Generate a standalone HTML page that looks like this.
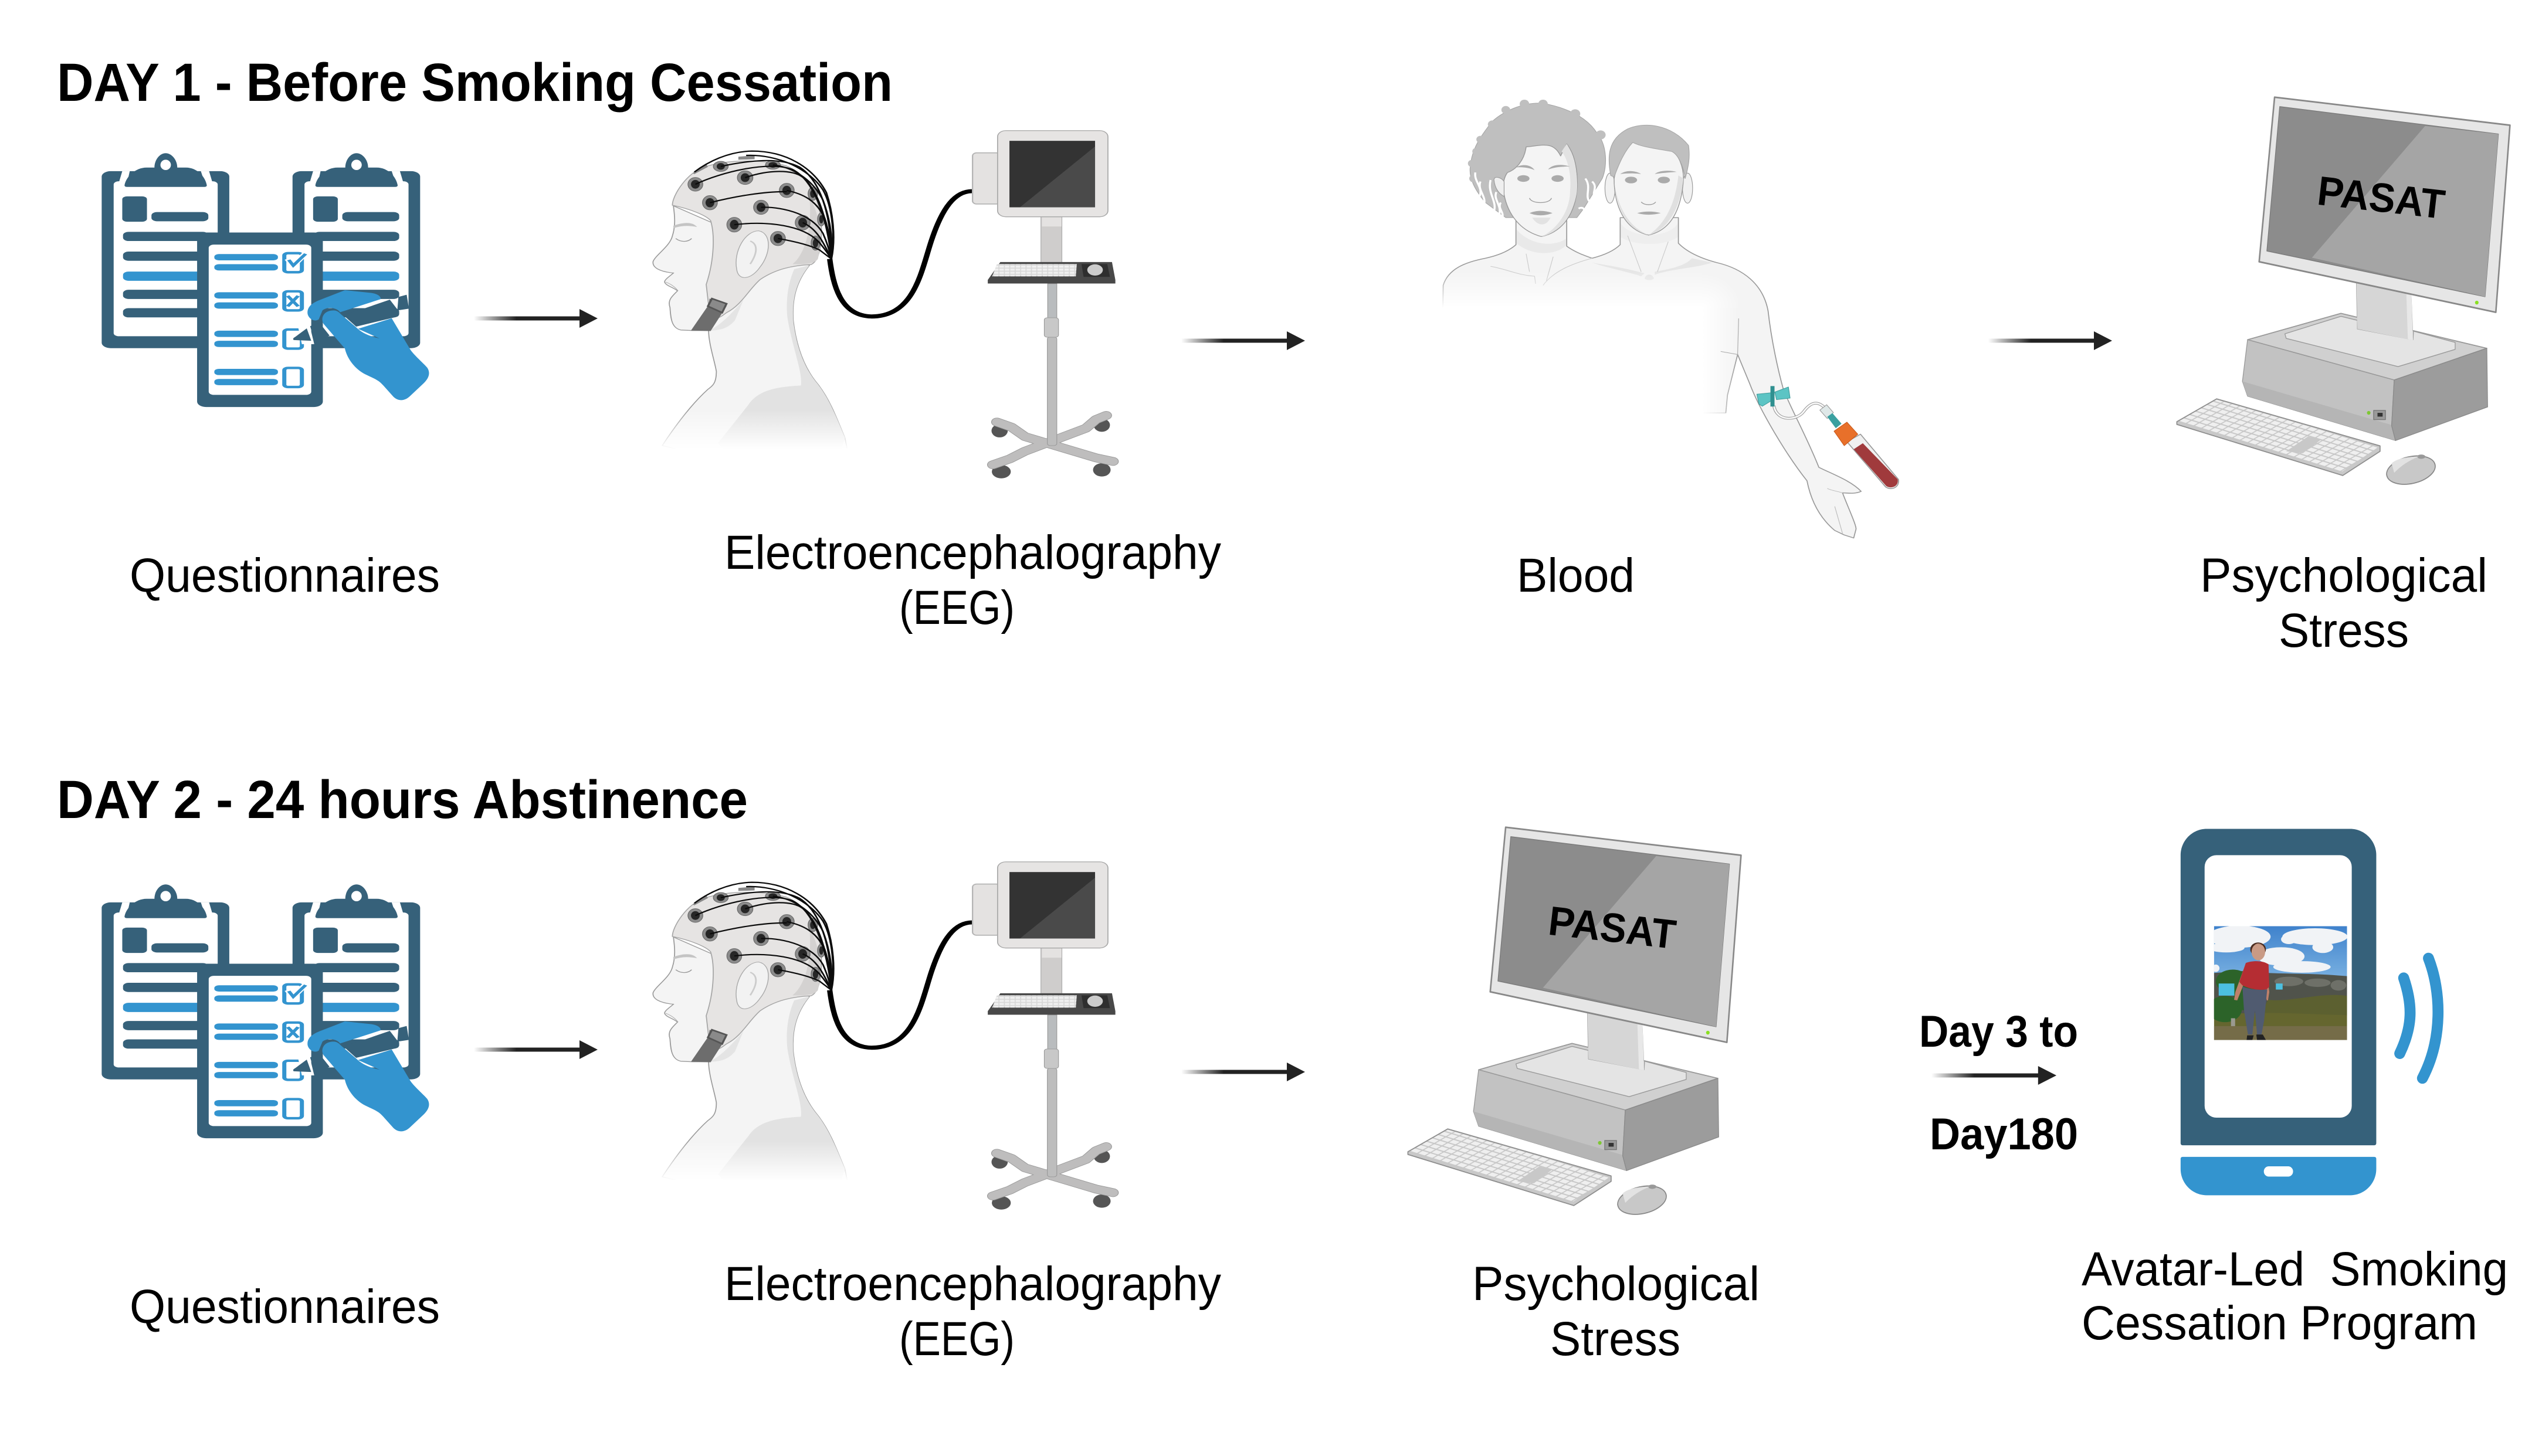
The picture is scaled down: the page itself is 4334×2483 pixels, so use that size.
<!DOCTYPE html>
<html lang="en"><head><meta charset="utf-8"><title>Study protocol diagram</title>
<style>html,body{margin:0;padding:0;background:#fff}svg{display:block}
text{font-family:"Liberation Sans",sans-serif;fill:#000;white-space:pre}
.t{font-weight:700;font-size:92px}.l{font-size:82px}.d{font-weight:700;font-size:76px}</style></head><body>
<svg xmlns="http://www.w3.org/2000/svg" width="4334" height="2483" viewBox="0 0 4334 2483">
<defs>
<linearGradient id="ag" x1="0" x2="1" y1="0" y2="0"><stop offset="0" stop-color="#222" stop-opacity="0"/><stop offset=".4" stop-color="#222"/><stop offset="1" stop-color="#222"/></linearGradient>
<linearGradient id="fv" gradientUnits="userSpaceOnUse" x1="0" x2="0" y1="1190" y2="1345"><stop offset="0" stop-color="#fff"/><stop offset="1" stop-color="#000"/></linearGradient>
<linearGradient id="fb" gradientUnits="userSpaceOnUse" x1="0" x2="0" y1="650" y2="770"><stop offset="0" stop-color="#fff"/><stop offset="1" stop-color="#000"/></linearGradient>
<linearGradient id="fh" gradientUnits="userSpaceOnUse" x1="870" x2="975" y1="0" y2="0"><stop offset="0" stop-color="#000"/><stop offset="1" stop-color="#fff"/></linearGradient>
<radialGradient id="fr" gradientUnits="userSpaceOnUse" cx="870" cy="770" r="115"><stop offset="0" stop-color="#000"/><stop offset="1" stop-color="#fff"/></radialGradient>
<linearGradient id="sky" x1="0" x2="0" y1="0" y2="1"><stop offset="0" stop-color="#3f82cc"/><stop offset="1" stop-color="#76aee0"/></linearGradient>
<mask id="mh" maskUnits="userSpaceOnUse" x="0" y="0" width="700" height="1400"><rect width="700" height="1400" fill="url(#fv)"/></mask>
<mask id="mb" maskUnits="userSpaceOnUse" x="0" y="0" width="1500" height="1600"><rect width="870" height="770" fill="url(#fb)"/><rect x="870" y="0" width="105" height="650" fill="#fff"/><rect x="870" y="650" width="105" height="120" fill="url(#fr)"/><rect x="870" y="770" width="105" height="350" fill="url(#fh)"/><rect x="975" y="0" width="525" height="1600" fill="#fff"/></mask>
<pattern id="k1" patternUnits="userSpaceOnUse" width="30" height="25" patternTransform="matrix(1,.297,.9,-.5,145,1283)"><rect x="2.5" y="3" width="25" height="19" rx="2" fill="#efefef"/></pattern>
<pattern id="k2" patternUnits="userSpaceOnUse" width="16" height="12"><rect x="1.5" y="2" width="13" height="8" rx="1" fill="#f0f0f0"/></pattern>

<g id="ar"><rect x="0" y="-3.5" width="181" height="7" fill="url(#ag)"/><path d="M180-16 L211 0 L180 16Z" fill="#222"/></g>

<g id="board"><rect x="115" y="240" width="341" height="788" rx="24" fill="#36617a"/>
<rect x="147" y="285" width="278" height="690" rx="14" fill="#fff"/>
<path d="M170 240L190 240L182 300L160 296Z M380 240H402L412 296L392 300Z" fill="#fff"/>
<path d="M176 303C180 265 205 224 235 224H256C256 190 270 160 286 160C302 160 317 190 317 224H340C370 224 392 265 396 303Q396 310 390 310H182Q176 310 176 303Z" fill="#36617a"/>
<ellipse cx="286" cy="212" rx="14" ry="23" fill="#fff"/>
<rect x="170" y="352" width="66" height="113" rx="13" fill="#36617a"/><rect x="248" y="422" width="152" height="41" rx="15" fill="#36617a"/>
<g fill="#36617a"><rect x="172" y="510" width="228" height="41" rx="15"/><rect x="172" y="598" width="228" height="41" rx="15"/><rect x="172" y="768" width="228" height="41" rx="15"/><rect x="172" y="850" width="228" height="41" rx="15"/></g>
<rect x="172" y="687" width="228" height="41" rx="15" fill="#3394cf"/></g>

<g id="q"><g transform="translate(100,200) scale(.638,.383)">
<use href="#board"/><use href="#board" x="510"/>
<rect x="370" y="513" width="336" height="777" rx="24" fill="#36617a"/>
<rect x="401" y="567" width="274" height="669" rx="14" fill="#fff"/>
<g fill="#3394cf"><rect x="416" y="609" width="170" height="28" rx="12"/><rect x="416" y="654" width="170" height="28" rx="12"/><rect x="416" y="779" width="170" height="28" rx="12"/><rect x="416" y="824" width="170" height="28" rx="12"/><rect x="416" y="950" width="170" height="28" rx="12"/><rect x="416" y="995" width="170" height="28" rx="12"/><rect x="416" y="1120" width="170" height="28" rx="12"/><rect x="416" y="1165" width="170" height="28" rx="12"/></g>
<g fill="#fff" stroke="#3394cf" stroke-width="11"><rect x="603" y="605" width="47" height="85" rx="10"/><rect x="603" y="775" width="47" height="85" rx="10"/><rect x="603" y="945" width="47" height="85" rx="10"/><rect x="603" y="1116" width="47" height="85" rx="10"/></g>
<path d="M612 630L627 660L660 606" fill="none" stroke="#fff" stroke-width="18"/><path d="M615 635L627 660L660 608" fill="none" stroke="#3394cf" stroke-width="10"/>
<path d="M612 795L640 842M640 795L612 842" stroke="#3394cf" stroke-width="10"/>
<path d="M815 852L885 812L905 855L908 885L895 892L795 932L760 880Z" fill="#36617a"/>
<path d="M908 800L930 790L936 852L905 860Z" fill="#36617a"/>
<path d="M672 930L697 915L724 972L685 1000Z" fill="#36617a"/>
<path d="M640 935H672L683 1010H650Z" fill="#fff"/>
<path d="M663 940L675 995L628 992C625 985 628 982 632 978Z" fill="#36617a"/>
<path d="M890 895L940 1035C950 1060 975 1095 985 1115C995 1140 988 1165 975 1185L940 1240C925 1265 908 1265 895 1245L868 1195C855 1170 845 1165 820 1145C790 1120 770 1070 765 1030L708 920C700 900 705 860 735 860C745 860 750 870 755 878L795 935C810 960 830 975 858 985L800 942Z" fill="#3394cf"/>
<path d="M665 870C665 840 680 825 700 812L765 770L835 782C855 787 862 800 860 810L752 868C745 850 720 840 705 860L695 900C680 915 665 890 665 870Z" fill="#3394cf"/>
</g></g>

<g id="eeg"><g transform="translate(1080,180) scale(.577,.436)">
<g mask="url(#mh)"><path d="M118 392C122 430 125 470 115 510C108 550 65 585 58 610C55 635 80 650 118 655C110 665 92 680 92 690C95 705 120 712 130 725C115 745 100 760 108 790C110 830 112 870 140 878L175 880L222 880C222 930 240 1000 245 1040C245 1085 235 1095 220 1110C170 1170 120 1260 85 1330L300 1400H640L625 1300C600 1220 580 1150 545 1090C500 1020 480 930 472 840C468 760 480 690 520 625Z" fill="#f4f4f4" stroke="#9a9a9a" stroke-width="3"/>
<path d="M340 1170C370 1110 430 1100 495 1095C500 1040 470 950 455 830C450 770 455 700 475 640L520 625C480 690 468 760 472 840C480 930 500 1020 545 1090C580 1150 600 1220 625 1300L600 1400H300L250 1320Z" fill="#e2e2e2"/>
<path d="M222 880C250 865 280 830 325 760L300 840C280 870 260 880 222 880Z" fill="#e4e4e4"/></g>
<path d="M118 470C150 455 175 455 188 475C160 468 140 470 118 480Z" fill="#c4c4c4"/><path d="M125 520C140 535 160 535 172 520" fill="none" stroke="#999" stroke-width="3"/><path d="M95 690C105 695 120 705 132 725" fill="none" stroke="#aaa" stroke-width="2"/>
<path d="M115 390C115 350 160 260 210 240C280 210 380 210 450 235C520 270 560 380 555 500C555 560 545 610 525 622C470 625 420 640 375 680C340 720 320 780 275 810C250 835 235 850 222 780L215 700C240 600 240 500 228 450C215 430 170 405 115 390Z" fill="#e6e4e3" stroke="#a5a5a5" stroke-width="3"/>
<path d="M470 620C500 590 530 500 520 360C550 420 560 520 545 600C535 620 500 622 470 620Z" fill="#d4d2d1"/>
<path d="M305 640C295 570 330 490 370 490C410 500 405 580 375 630C350 680 310 690 305 640Z" fill="#f2f2f2" stroke="#aaa" stroke-width="2.5"/><path d="M345 530C365 540 370 570 345 620" fill="none" stroke="#ccc" stroke-width="5"/>
<path d="M222 780L170 880L228 882L275 785L225 755Z" fill="#6d6d6d"/><path d="M220 785L232 755L275 775L262 810Z" fill="#8a8a8a" stroke="#555" stroke-width="6"/>
<g fill="#8b8b8b" stroke="#666" stroke-width="2"><ellipse cx="183" cy="308" rx="22" ry="27"/><ellipse cx="258" cy="238" rx="22" ry="20"/><ellipse cx="330" cy="282" rx="23" ry="27"/><ellipse cx="412" cy="232" rx="22" ry="17"/><ellipse cx="453" cy="332" rx="22" ry="28"/><ellipse cx="226" cy="380" rx="22" ry="28"/><ellipse cx="377" cy="398" rx="22" ry="28"/><ellipse cx="298" cy="466" rx="22" ry="29"/><ellipse cx="500" cy="458" rx="22" ry="29"/><ellipse cx="427" cy="520" rx="22" ry="28"/><ellipse cx="530" cy="345" rx="14" ry="26"/><ellipse cx="555" cy="445" rx="11" ry="26"/><ellipse cx="538" cy="538" rx="13" ry="28"/></g>
<g fill="#262626"><ellipse cx="183" cy="308" rx="13" ry="17"/><ellipse cx="258" cy="238" rx="12" ry="13"/><ellipse cx="330" cy="282" rx="13" ry="17"/><ellipse cx="412" cy="232" rx="13" ry="11"/><ellipse cx="453" cy="332" rx="13" ry="18"/><ellipse cx="226" cy="380" rx="13" ry="18"/><ellipse cx="377" cy="398" rx="13" ry="18"/><ellipse cx="298" cy="466" rx="13" ry="19"/><ellipse cx="500" cy="458" rx="13" ry="19"/><ellipse cx="427" cy="520" rx="13" ry="18"/><ellipse cx="530" cy="345" rx="8" ry="16"/><ellipse cx="555" cy="445" rx="6" ry="16"/><ellipse cx="538" cy="538" rx="8" ry="17"/></g>
<path d="M175 265L215 228L220 240L180 268ZM310 200L358 195V210L310 212Z" fill="#888"/>
<g fill="none" stroke="#0c0c0c" stroke-width="5"><path d="M183 308C260 260 400 215 470 250C530 290 570 420 585 600"/><path d="M258 238C340 215 430 200 490 240C550 290 585 420 585 600"/><path d="M330 282C400 250 470 250 500 280C545 330 575 450 585 600"/><path d="M412 232C470 240 530 290 560 370C580 440 590 520 585 600"/><path d="M453 332C500 345 540 370 565 440C575 480 585 540 585 600"/><path d="M226 380C300 355 390 335 453 337"/><path d="M377 398C450 395 530 430 560 500C570 530 580 570 585 600"/><path d="M298 466C400 450 500 470 545 530C560 550 575 580 585 600"/><path d="M500 458C540 480 560 530 585 600"/><path d="M427 520C470 530 520 545 550 565L585 600"/><path d="M180 260C220 220 280 180 350 178C450 178 530 240 570 340C590 420 598 520 585 600"/><path d="M333 195C430 190 520 250 560 330C590 400 595 520 585 600"/></g>
<path d="M580 600C590 700 610 822 703 825C830 825 850 650 880 530C905 430 940 335 1000 335" fill="none" stroke="#000" stroke-width="16"/>
<rect x="1002" y="185" width="82" height="200" rx="12" fill="#e4e2e1" stroke="#b5b5b5" stroke-width="4"/>
<g transform="translate(-8,0)">
<rect x="1212" y="435" width="62" height="180" fill="#cfcdcc" stroke="#aaa" stroke-width="2"/><rect x="1215" y="437" width="58" height="36" fill="#e4e2e1"/>
<rect x="1084" y="98" width="326" height="337" rx="24" fill="#e6e4e3" stroke="#a8a8a8" stroke-width="3"/>
<rect x="1119" y="138" width="253" height="260" fill="#333"/><path d="M1372 160V398H1150Z" fill="#4a4a4a"/>
<path d="M1092 612H1422L1432 682V696H1055V682Z" fill="#484848"/><path d="M1082 620H1318L1315 668H1068Z" fill="#d8d8d8"/><path d="M1082 620H1318L1315 668H1068Z" fill="url(#k2)"/>
<path d="M1332 620H1408L1416 670H1338Z" fill="#2e2e2e"/><ellipse cx="1372" cy="643" rx="23" ry="22" fill="#ccc"/>
<rect x="1232" y="697" width="27" height="140" fill="#b9bcbe" stroke="#999" stroke-width="2"/>
<g fill="#555"><ellipse cx="1090" cy="1272" rx="24" ry="26"/><ellipse cx="1392" cy="1250" rx="24" ry="26"/><ellipse cx="1095" cy="1432" rx="28" ry="26"/><ellipse cx="1392" cy="1425" rx="26" ry="26"/></g>
<g fill="none" stroke-linejoin="round" stroke-linecap="round"><path d="M1082 1238L1125 1258L1165 1295L1375 1378L1425 1392M1070 1405L1120 1382L1165 1352L1345 1262L1375 1228L1405 1212" stroke="#999" stroke-width="34"/><path d="M1082 1238L1125 1258L1165 1295L1375 1378L1425 1392M1070 1405L1120 1382L1165 1352L1345 1262L1375 1228L1405 1212" stroke="#bebdbd" stroke-width="30"/></g>
<rect x="1231" y="905" width="28" height="425" rx="8" fill="#bdbdbd" stroke="#999" stroke-width="2"/><rect x="1222" y="830" width="42" height="76" rx="8" fill="#c8c8c8" stroke="#999" stroke-width="2"/>
</g>
</g></g>

<g id="pc"><g transform="translate(3650,130) scale(.4386,.4585)" stroke-linejoin="round">
<path d="M838 760L1050 800L1058 985L842 945Z" fill="#d8d8d8" stroke="#999" stroke-width="3"/>
<path d="M415 980L778 882L1345 1012L985 1130Z" fill="#d0d0d0" stroke="#999" stroke-width="4"/>
<path d="M415 980L985 1130L975 1300L990 1355L415 1190L395 1135Z" fill="#c2c2c2" stroke="#999" stroke-width="3"/><path d="M395 1135L985 1300L990 1355L415 1190Z" fill="#b5b5b5"/>
<path d="M985 1130L1345 1012L1348 1230L990 1355L975 1300Z" fill="#9c9c9c" stroke="#8a8a8a" stroke-width="3"/>
<path d="M560 958L778 893L842 908V940L1058 980L1060 948L1222 990V1016L1000 1080L565 975Z" fill="#e4e4e4" stroke="#999" stroke-width="3"/>
<path d="M838 770L1050 810L1058 982L842 940Z" fill="#d6d6d6"/><path d="M1032 805L1052 810L1058 982L1038 978Z" fill="#e8e8e8"/>
<circle cx="886" cy="1252" r="7" fill="#7ec832"/><rect x="905" y="1243" width="46" height="34" fill="#9a9a9a" stroke="#777" stroke-width="3"/><rect x="920" y="1252" width="20" height="14" fill="#333"/>
<path d="M520 78L1435 182L1380 878L460 690Z" fill="#e6e6e6" stroke="#888" stroke-width="6"/>
<path d="M540 113L1390 215L1338 820L490 650Z" fill="#8c8c8c" stroke="#7a7a7a" stroke-width="3"/><path d="M1105 185L1390 215L1338 820L665 675Z" fill="#a5a5a5"/>
<circle cx="1306" cy="842" r="7" fill="#8ae020"/>
<path d="M140 1285L295 1200L930 1375V1395L785 1485L140 1295Z" fill="#c8c8c8" stroke="#8f8f8f" stroke-width="4"/>
<path d="M145 1283L295 1203L925 1378L780 1472Z" fill="url(#k1)"/>
<path d="M565 1395L650 1340L700 1352L630 1402Z" fill="#c8c8c8"/>
<ellipse cx="1050" cy="1465" rx="96" ry="50" transform="rotate(-12 1050 1465)" fill="#c8c8c8" stroke="#888" stroke-width="4"/><ellipse cx="1090" cy="1415" rx="16" ry="8" fill="#999"/><path d="M975 1440C990 1425 1030 1415 1080 1415C1040 1430 1010 1450 985 1475Z" fill="#e2e2e2"/>
</g>
<text transform="translate(4060,336) rotate(6.5)" y="25" text-anchor="middle" font-size="70" font-weight="700" textLength="218" lengthAdjust="spacingAndGlyphs">PASAT</text></g>
</defs>

<text class="t" x="97" y="172" textLength="1425" lengthAdjust="spacingAndGlyphs">DAY 1 - Before Smoking Cessation</text>
<text class="t" x="97" y="1395" textLength="1178" lengthAdjust="spacingAndGlyphs">DAY 2 - 24 hours Abstinence</text>

<use href="#q"/><use href="#q" y="1247"/>
<use href="#eeg"/><use href="#eeg" y="1247"/>

<!-- people -->
<g transform="translate(2400,130) scale(.577,.513)" stroke-linejoin="round">
<g mask="url(#mb)">
<path d="M105 695C120 640 170 618 230 605C270 595 300 580 320 560V480H470V565C495 585 520 595 545 605C580 595 610 580 628 560V470H800V555C830 590 880 610 915 620C990 640 1050 690 1065 780C1075 880 1095 980 1110 1040C1130 1100 1180 1200 1215 1300C1260 1325 1310 1345 1340 1380C1320 1390 1300 1385 1285 1385C1300 1430 1325 1490 1325 1505L1318 1535L1290 1525L1262 1510C1230 1480 1195 1430 1180 1345C1120 1260 1040 1110 1010 1020L975 925L945 1060L940 1120H100Z" fill="#f4f4f4" stroke="#9a9a9a" stroke-width="3"/>
<path d="M322 510C360 560 430 570 468 540V562C440 595 370 600 322 556Z" fill="#e9e9e9"/>
<path d="M630 490C660 540 770 540 798 490V535C760 565 670 565 630 535Z" fill="#eeeeee"/>
<path d="M700 672C705 655 722 655 728 672C722 680 706 680 700 672ZM545 620C600 640 650 650 690 665L700 655C650 640 600 630 545 620ZM730 660C780 640 840 640 900 620L840 605C820 630 780 640 730 650Z" fill="#e6e6e6"/>
<path d="M350 590L360 650M430 600L410 680M245 632C290 640 320 660 375 665L378 690M545 605C480 625 430 650 400 695M650 530L690 650M770 550L738 650" fill="none" stroke="#cacaca" stroke-width="2"/>
</g>
<path d="M978 805L975 925L925 915" fill="none" stroke="#aaa" stroke-width="2"/>
<path d="M1262 1430L1285 1520M1285 1385C1270 1380 1245 1375 1240 1370" fill="none" stroke="#bbb" stroke-width="2"/>
<!-- woman -->
<path d="M185 300C190 240 215 200 250 150C290 110 350 85 400 90C470 105 530 135 560 190C590 230 590 300 575 340L520 440L500 470L290 470L230 420C200 380 180 340 185 300Z" fill="#bfbfbf" stroke="#a5a5a5" stroke-width="2"/>
<g fill="#bfbfbf"><circle cx="345" cy="92" r="14"/><circle cx="400" cy="92" r="14"/><circle cx="290" cy="112" r="13"/><circle cx="495" cy="125" r="15"/><circle cx="250" cy="160" r="13"/><circle cx="570" cy="195" r="15"/><circle cx="215" cy="210" r="12"/><circle cx="203" cy="250" r="12"/><circle cx="190" cy="290" r="12"/><circle cx="195" cy="340" r="13"/></g>
<g fill="none" stroke="#fff" stroke-width="6"><path d="M200 320C195 350 225 370 212 400"/><path d="M215 350C205 380 235 400 225 430"/><path d="M245 345C235 390 265 415 255 450"/><path d="M262 385C252 410 280 430 270 462"/><path d="M275 420C265 440 285 450 280 470"/><path d="M525 340C545 370 520 400 540 420"/><path d="M545 350C565 370 540 390 555 405"/><path d="M505 440C520 430 530 450 515 460"/></g>
<path d="M283 380C290 440 320 510 395 533C450 520 490 470 500 385C505 320 495 260 470 225L452 265C430 215 400 230 350 235C345 280 320 310 295 320C285 335 280 360 283 380Z" fill="#f4f4f4" stroke="#999" stroke-width="2.5"/>
<path d="M255 345C255 330 275 335 285 350L285 400C270 390 258 375 255 345Z" fill="#efefef" stroke="#999" stroke-width="2"/>
<path d="M470 225C490 260 505 320 500 385C490 460 450 520 395 533C440 510 480 450 480 380C485 320 470 270 455 250Z" fill="#e2e2e2"/>
<g fill="#aaa"><ellipse cx="342" cy="340" rx="18" ry="11"/><ellipse cx="443" cy="340" rx="18" ry="11"/><path d="M320 303C340 290 365 295 375 312C355 302 335 302 320 303ZM415 310C425 295 450 290 480 300C455 300 435 302 415 310Z"/><path d="M360 455C380 445 405 445 428 455C405 465 380 465 360 455Z"/><path d="M368 470C385 500 410 500 422 470Z" fill="#e2e2e2"/></g>
<path d="M360 405C365 425 420 425 425 405" fill="none" stroke="#999" stroke-width="2.5"/>
<!-- man -->
<ellipse cx="598" cy="372" rx="15" ry="50" fill="#f1f1f1" stroke="#999" stroke-width="2"/><ellipse cx="827" cy="372" rx="15" ry="50" fill="#f1f1f1" stroke="#999" stroke-width="2"/>
<path d="M610 340C610 430 640 510 712 528C785 510 810 430 815 340C815 300 800 260 780 245C730 240 690 235 665 215C640 245 620 280 610 340Z" fill="#f4f4f4" stroke="#999" stroke-width="2.5"/>
<path d="M610 350C620 430 650 500 712 528C650 510 620 450 610 350ZM815 340C805 440 770 510 712 528C760 490 790 430 800 330Z" fill="#e0e0e0"/>
<path d="M600 330C590 270 590 210 650 175C700 150 780 160 830 230C835 270 830 300 820 340C815 300 800 260 780 250C730 240 690 235 665 220C640 250 625 290 610 335Z" fill="#bfbfbf" stroke="#a5a5a5" stroke-width="2"/>
<g fill="#aaa"><ellipse cx="660" cy="345" rx="18" ry="11"/><ellipse cx="757" cy="345" rx="18" ry="11"/><path d="M628 325C645 312 670 312 690 325C670 322 650 322 628 325ZM730 325C745 312 775 312 795 318C770 320 750 322 730 325Z"/><path d="M678 455C700 448 725 448 748 455C725 462 700 462 678 455Z"/></g>
<path d="M690 418C700 430 725 430 733 418" fill="none" stroke="#999" stroke-width="2.5"/>
<!-- butterfly and tube -->
<path d="M1082 1095C1090 1150 1150 1145 1170 1115C1190 1085 1210 1075 1235 1105" fill="none" stroke="#9a9a9a" stroke-width="9"/><path d="M1082 1095C1090 1150 1150 1145 1170 1115C1190 1085 1210 1075 1235 1105" fill="none" stroke="#fafafa" stroke-width="5"/>
<path d="M1032 1057L1078 1052L1080 1075L1048 1097L1038 1090ZM1085 1050L1125 1033L1130 1070L1090 1075Z" fill="#5cc4c4" stroke="#3f9c9c" stroke-width="2"/>
<rect x="1072" y="1030" width="12" height="68" fill="#2f9090"/>
<path d="M1218 1110L1238 1092L1258 1118L1240 1138Z" fill="#dfe8e8" stroke="#999" stroke-width="2"/>
<path d="M1240 1132L1255 1120L1282 1155L1265 1170Z" fill="#3aa0a0"/>
<path d="M1298 1215L1338 1190L1450 1340C1455 1365 1430 1380 1412 1365Z" fill="#f0f0f0" stroke="#999" stroke-width="3"/>
<path d="M1318 1240L1345 1220L1448 1340C1452 1362 1430 1374 1414 1362Z" fill="#a03a3c"/>
<path d="M1260 1180L1298 1150L1330 1190L1290 1228Z" fill="#e8702a" stroke="#c95a1c" stroke-width="2"/>
</g>

<use href="#pc"/><use href="#pc" x="-1311" y="1245"/>

<!-- phone -->
<g transform="translate(3640,1400) scale(.4448,.4486)">
<path d="M175 130C175 75 220 30 275 30H825C880 30 925 75 925 130V1225Q925 1233 917 1233H183Q175 1233 175 1225Z" fill="#36617a"/>
<rect x="267" y="130" width="564" height="998" rx="45" fill="#fff"/>
<path d="M183 1277H917Q925 1277 925 1285V1323C925 1378 880 1423 825 1423H275C220 1423 175 1378 175 1323V1285Q175 1277 183 1277Z" fill="#3394cf"/>
<rect x="494" y="1313" width="112" height="39" rx="19" fill="#fff"/>
<g fill="none" stroke="#3394cf" stroke-width="42" stroke-linecap="round"><path d="M1125 522C1175 650 1180 830 1102 978"/><path d="M1030 597C1065 700 1065 780 1015 884"/></g>
<svg x="303" y="400" width="510" height="433" viewBox="303 400 510 433">
<rect x="303" y="400" width="510" height="190" fill="url(#sky)"/>
<g fill="#f1f3f6"><ellipse cx="400" cy="440" rx="120" ry="42"/><ellipse cx="350" cy="482" rx="70" ry="18"/><ellipse cx="690" cy="440" rx="125" ry="32"/><ellipse cx="720" cy="480" rx="40" ry="22"/><ellipse cx="560" cy="515" rx="90" ry="35"/><ellipse cx="640" cy="555" rx="110" ry="22"/><ellipse cx="590" cy="450" rx="30" ry="18"/><ellipse cx="310" cy="560" rx="14" ry="14"/></g>
<path d="M303 578L420 570C520 585 640 575 813 590V740H303Z" fill="#50534b"/>
<g fill="#6e7068"><ellipse cx="590" cy="610" rx="55" ry="18"/><ellipse cx="700" cy="615" rx="50" ry="16"/><ellipse cx="780" cy="625" rx="30" ry="20"/></g>
<path d="M510 680C590 690 720 650 813 665V740H480Z" fill="#5c6030"/>
<path d="M303 740C450 720 650 735 813 738V833H303Z" fill="#65662f"/><path d="M303 780H813V833H303Z" fill="#756c48"/>
<g fill="#2c6329"><ellipse cx="375" cy="610" rx="65" ry="45"/><ellipse cx="345" cy="715" rx="65" ry="50"/><ellipse cx="420" cy="660" rx="42" ry="60"/></g>
<rect x="368" y="750" width="16" height="30" fill="#9a9a90"/>
<rect x="321" y="618" width="60" height="46" fill="#4cc0e0"/><rect x="540" y="618" width="26" height="23" fill="#4cc0e0"/>
<path d="M425 540L385 650L380 680L392 682L415 625ZM500 540L515 650L510 682L505 682L495 630Z" fill="#c0806a"/>
<path d="M425 540C450 530 490 530 512 545L515 630L505 640C480 645 440 640 412 625L400 612Z" fill="#b52d33"/>
<path d="M412 630C440 640 480 645 507 640L495 760L485 812H468L460 720L450 812H433L418 720Z" fill="#505b70"/>
<path d="M430 815L455 815L450 833H428ZM465 812H490L502 833H468Z" fill="#222"/>
<ellipse cx="472" cy="488" rx="30" ry="26" fill="#4a2c20"/><ellipse cx="473" cy="498" rx="26" ry="32" fill="#c99a85"/><path d="M443 490C450 465 495 460 503 490L498 475C480 465 460 468 447 480Z" fill="#4a2c20"/>
</svg>
</g>

<use href="#ar" x="808" y="543"/><use href="#ar" x="2014" y="581"/><use href="#ar" x="3390" y="581"/>
<use href="#ar" x="808" y="1790"/><use href="#ar" x="2014" y="1828"/>
<use href="#ar" transform="translate(3293,1834) scale(1.01,1)"/>

<text class="d" x="3272" y="1785" textLength="271" lengthAdjust="spacingAndGlyphs">Day 3 to</text>
<text class="d" x="3290" y="1960" textLength="253" lengthAdjust="spacingAndGlyphs">Day180</text>

<text class="l" x="221" y="1009" textLength="529" lengthAdjust="spacingAndGlyphs">Questionnaires</text>
<text class="l" x="1235" y="970" textLength="847" lengthAdjust="spacingAndGlyphs">Electroencephalography</text>
<text class="l" x="1533" y="1064" textLength="197" lengthAdjust="spacingAndGlyphs">(EEG)</text>
<text class="l" x="2586" y="1009" textLength="201" lengthAdjust="spacingAndGlyphs">Blood</text>
<text class="l" x="3751" y="1009" textLength="490" lengthAdjust="spacingAndGlyphs">Psychological</text>
<text class="l" x="3885" y="1103" textLength="222" lengthAdjust="spacingAndGlyphs">Stress</text>

<text class="l" x="221" y="2256" textLength="529" lengthAdjust="spacingAndGlyphs">Questionnaires</text>
<text class="l" x="1235" y="2217" textLength="847" lengthAdjust="spacingAndGlyphs">Electroencephalography</text>
<text class="l" x="1533" y="2311" textLength="197" lengthAdjust="spacingAndGlyphs">(EEG)</text>
<text class="l" x="2510" y="2217" textLength="490" lengthAdjust="spacingAndGlyphs">Psychological</text>
<text class="l" x="2643" y="2311" textLength="222" lengthAdjust="spacingAndGlyphs">Stress</text>
<text class="l" x="3549" y="2192" textLength="727" lengthAdjust="spacingAndGlyphs">Avatar-Led  Smoking</text>
<text class="l" x="3549" y="2284" textLength="675" lengthAdjust="spacingAndGlyphs">Cessation Program</text>
</svg>
</body></html>
